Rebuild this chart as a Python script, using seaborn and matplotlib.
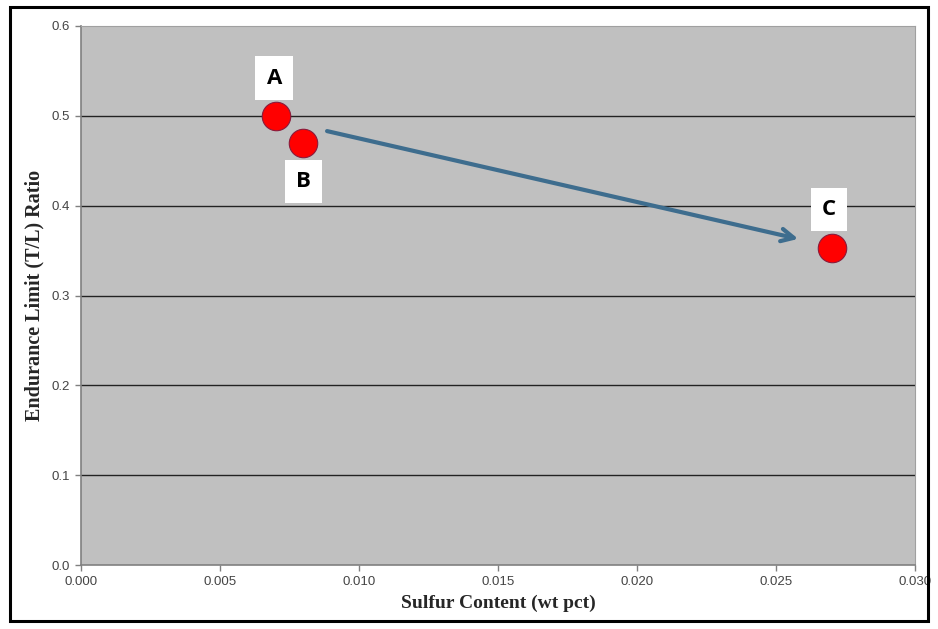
import matplotlib
matplotlib.use("Agg")
import matplotlib.pyplot as plt
import seaborn as sns
import pandas as pd
from matplotlib.patches import Rectangle

# Data
labels = ["A", "B", "C"]
sulfur = [0.007, 0.008, 0.027]
ratio = [0.500, 0.470, 0.353]
label_x = [0.00695, 0.0080, 0.0269]
label_y = [0.542, 0.427, 0.396]
arrow_start = (0.00885, 0.483)
arrow_end = (0.0258, 0.363)
xticks = [0.000, 0.005, 0.010, 0.015, 0.020, 0.025, 0.030]
yticks = [0.0, 0.1, 0.2, 0.3, 0.4, 0.5, 0.6]

df = pd.DataFrame({"sulfur": sulfur, "ratio": ratio, "label": labels})

sns.set_style("white")
plt.rcParams["font.family"] = ["Liberation Sans", "DejaVu Sans"]

fig = plt.figure(figsize=(9.38, 6.29), dpi=100)
ax = fig.add_axes([0.0864, 0.1017, 0.8891, 0.857])
ax.set_facecolor("#c0c0c0")

# Outer frame
fig.patches.append(Rectangle((0.0107, 0.0127), 0.9786, 0.9762, transform=fig.transFigure,
                             fill=False, edgecolor="black", linewidth=2.2, zorder=0))

for y in yticks[1:-1]:
    ax.axhline(y, color="#222222", linewidth=1.0, zorder=1)

sns.scatterplot(data=df, x="sulfur", y="ratio", ax=ax, s=420, color="#ff0000",
                edgecolor="#8b1a3a", linewidth=0.8, zorder=3, legend=False)

ax.annotate("", xy=arrow_end, xytext=arrow_start,
            arrowprops=dict(arrowstyle="->,head_length=0.9,head_width=0.45",
                            color="#3e6d8e", linewidth=3.0, shrinkA=0, shrinkB=0),
            zorder=2)

for lab, lx, ly in zip(labels, label_x, label_y):
    ax.text(lx, ly, lab, ha="center", va="center", fontsize=16, fontweight="bold",
            family=["Open Sans", "DejaVu Sans"], color="black", zorder=4,
            bbox=dict(boxstyle="square,pad=0.5", facecolor="white", edgecolor="none"))

ax.set_xlim(0, 0.030)
ax.set_ylim(0, 0.6)
ax.set_xticks(xticks)
ax.set_yticks(yticks)
ax.set_xticklabels([f"{v:.3f}" for v in xticks], fontsize=9.5, color="#444444")
ax.set_yticklabels([f"{v:.1f}" for v in yticks], fontsize=9.5, color="#444444")
ax.tick_params(axis="both", direction="out", length=4, width=1, color="#808080",
               bottom=True, left=True, pad=4)

for side in ["top", "right"]:
    ax.spines[side].set_visible(True)
    ax.spines[side].set_color("#a0a0a0")
    ax.spines[side].set_linewidth(0.8)
for side in ["left", "bottom"]:
    ax.spines[side].set_color("#808080")
    ax.spines[side].set_linewidth(1.2)

ax.set_xlabel("Sulfur Content (wt pct)", fontsize=14, fontweight="bold",
              family=["Liberation Serif", "DejaVu Serif"], labelpad=5)
ax.set_ylabel("Endurance Limit (T/L) Ratio", fontsize=14.5, fontweight="bold",
              family=["Liberation Serif", "DejaVu Serif"], labelpad=5)

fig.savefig("out.png", dpi=100)
